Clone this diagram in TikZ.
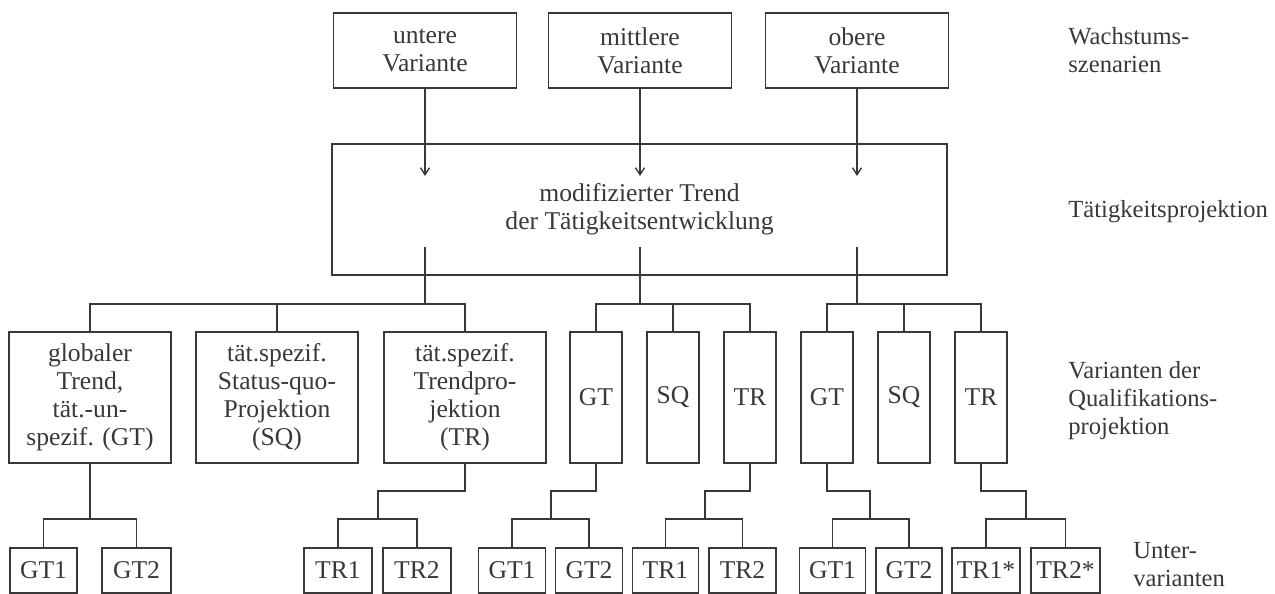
\documentclass[tikz,border=0pt]{standalone}
\usepackage{fontspec}
\setmainfont{Liberation Serif}
\usetikzlibrary{arrows.meta}
\definecolor{ink}{gray}{0.22}
\tikzset{
  bx/.style 2 args={draw=ink, line width=0.7pt, inner sep=0pt, align=center,
    text=ink, minimum width=#1*0.5pt, minimum height=#2*0.5pt,
    font=\fontsize{12.8}{14}\selectfont},
  lbl/.style={anchor=west, inner sep=0pt, align=left, text=ink,
    font=\fontsize{12.3}{14}\selectfont},
  conn/.style={draw=ink, line width=0.7pt},
  arr/.style={conn, -{Straight Barb[length=3.5pt,width=4.5pt]}}
}
\begin{document}
\begin{tikzpicture}[x=0.5pt,y=-0.5pt]
\useasboundingbox (0,0) rectangle (1275,594);
% level coordinates
\coordinate (ah) at (0,176);
\coordinate (ls) at (0,247);
\coordinate (bus) at (0,304);
\coordinate (j1) at (0,491);
% top row
\node[bx={183}{75}] (u) at (425,50.5) {untere\\Variante};
\node[bx={183}{75}] (m) at (640,50.5) {mittlere\\Variante};
\node[bx={183}{75}] (o) at (857,50.5) {obere\\Variante};
% big box
\node[bx={615}{131}] (t) at (639.5,209.5) {modifizierter Trend\\der Tätigkeitsentwicklung};
% arrows
\draw[arr] (u.south) -- (u.south |- ah);
\draw[arr] (m.south) -- (m.south |- ah);
\draw[arr] (o.south) -- (o.south |- ah);
% middle row
\node[bx={162}{131}] (g1) at (90,397.5) {globaler\\Trend,\\tät.-un-\\spezif. (GT)};
\node[bx={162}{131}] (s1) at (277,397.5) {tät.spezif.\\Status-quo-\\Projektion\\(SQ)};
\node[bx={162}{131}] (t1) at (465,397.5) {tät.spezif.\\Trendpro-\\jektion\\(TR)};
\node[bx={52}{131}] (g2) at (596,397.5) {GT};
\node[bx={52}{131}] (s2) at (673,397.5) {SQ};
\node[bx={52}{131}] (t2) at (750,397.5) {TR};
\node[bx={52}{131}] (g3) at (827,397.5) {GT};
\node[bx={52}{131}] (s3) at (904,397.5) {SQ};
\node[bx={52}{131}] (t3) at (981,397.5) {TR};
% buses from big box
\draw[conn] (u.south |- ls) -- (u.south |- bus);
\draw[conn] (g1.north) |- (u.south |- bus) -| (t1.north);
\draw[conn] (s1.north) -- (s1.north |- bus);
\draw[conn] (m.south |- ls) -- (m.south |- bus);
\draw[conn] (g2.north) |- (m.south |- bus) -| (t2.north);
\draw[conn] (s2.north) -- (s2.north |- bus);
\draw[conn] (o.south |- ls) -- (o.south |- bus);
\draw[conn] (g3.north) |- (o.south |- bus) -| (t3.north);
\draw[conn] (s3.north) -- (s3.north |- bus);
% bottom row
\node[bx={67}{45}] (a1) at (43.5,570.5) {GT1};
\node[bx={69}{45}] (a2) at (136.5,570.5) {GT2};
\node[bx={68}{45}] (b1) at (338,570.5) {TR1};
\node[bx={68}{45}] (b2) at (417,570.5) {TR2};
\node[bx={67}{45}] (c1) at (512,570.5) {GT1};
\node[bx={67}{45}] (c2) at (589,570.5) {GT2};
\node[bx={66}{45}] (d1) at (665.5,570.5) {TR1};
\node[bx={67}{45}] (d2) at (742.5,570.5) {TR2};
\node[bx={66}{45}] (e1) at (832.5,570.5) {GT1};
\node[bx={66}{45}] (e2) at (909,570.5) {GT2};
\node[bx={68}{45}] (f1) at (986,570.5) {TR1*};
\node[bx={69}{45}] (f2) at (1065.5,570.5) {TR2*};
% junction points
\coordinate (ka) at (90,519);
\coordinate (kb) at (378,519);
\coordinate (kc) at (551,519);
\coordinate (kd) at (705,519);
\coordinate (ke) at (870,519);
\coordinate (kf) at (1026,519);
\draw[conn] (g1.south) -- (ka);
\draw[conn] (a1.north) |- (ka) -| (a2.north);
\draw[conn] (t1.south) |- (kb |- j1) -- (kb);
\draw[conn] (b1.north) |- (kb) -| (b2.north);
\draw[conn] (g2.south) |- (kc |- j1) -- (kc);
\draw[conn] (c1.north) |- (kc) -| (c2.north);
\draw[conn] (t2.south) |- (kd |- j1) -- (kd);
\draw[conn] (d1.north) |- (kd) -| (d2.north);
\draw[conn] (g3.south) |- (ke |- j1) -- (ke);
\draw[conn] (e1.north) |- (ke) -| (e2.north);
\draw[conn] (t3.south) |- (kf |- j1) -- (kf);
\draw[conn] (f1.north) |- (kf) -| (f2.north);
% right labels
\node[lbl] (l1) at (1068,50) {Wachstums-\\szenarien};
\node[lbl] (l2) at (1068,212) {Tätigkeitsprojektion};
\node[lbl] (l3) at (1068,401) {Varianten der\\Qualifikations-\\projektion};
\node[lbl] (l4) at (1133,565) {Unter-\\varianten};
\end{tikzpicture}
\end{document}
